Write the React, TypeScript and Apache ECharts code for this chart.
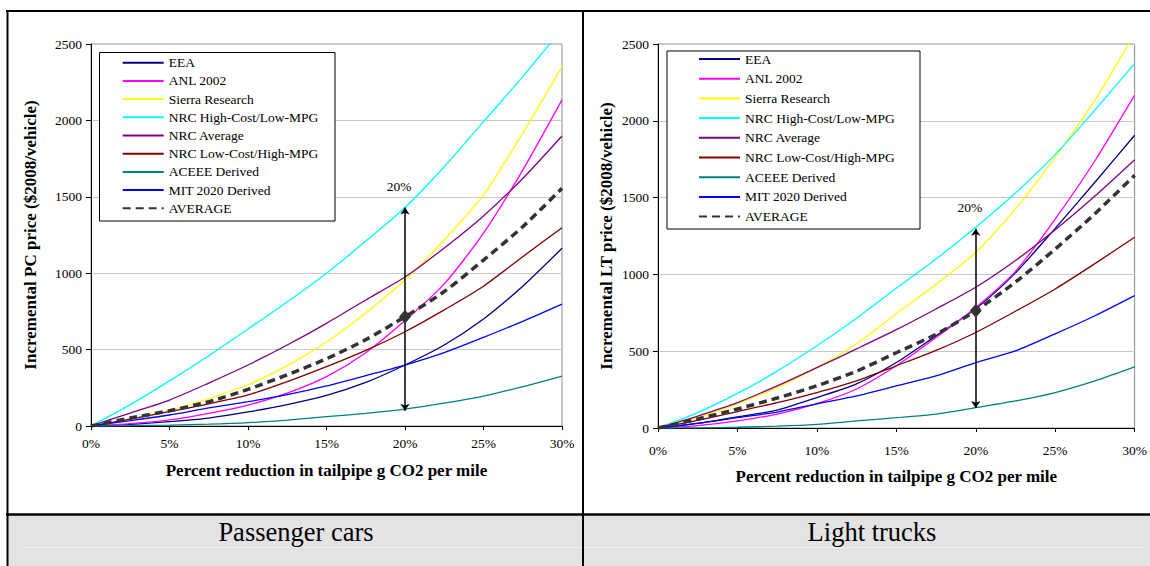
import React, { useEffect, useRef } from "react";
import * as echarts from "echarts";

// x values: percent reduction in tailpipe g CO2 per mile
const pct = [0, 2.5, 5, 7.5, 10, 12.5, 15, 17.5, 20, 22.5, 25, 27.5, 30];
const xTicks = [0, 5, 10, 15, 20, 25, 30];

const seriesNames = [
  "EEA",
  "ANL 2002",
  "Sierra Research",
  "NRC High-Cost/Low-MPG",
  "NRC Average",
  "NRC Low-Cost/High-MPG",
  "ACEEE Derived",
  "MIT 2020 Derived",
  "AVERAGE",
];
const seriesColors = [
  "#000080",
  "#ff00ff",
  "#ffff00",
  "#00ffff",
  "#800080",
  "#800000",
  "#008080",
  "#0000ff",
  "#333333",
];

// Passenger cars ($2008/vehicle)
const pcEEA = [0, 10, 28, 52, 92, 140, 200, 285, 399, 530, 700, 915, 1163];
const pcANL = [0, 15, 40, 83, 137, 215, 323, 480, 690, 930, 1262, 1675, 2134];
const pcSierra = [0, 45, 100, 180, 270, 395, 550, 740, 955, 1217, 1512, 1916, 2352];
const pcNrcHigh = [0, 140, 295, 460, 635, 812, 1000, 1210, 1430, 1697, 1992, 2286, 2600];
const pcNrcAvg = [0, 85, 170, 281, 399, 530, 672, 825, 975, 1165, 1375, 1620, 1898];
const pcNrcLow = [0, 45, 94, 145, 203, 290, 388, 495, 617, 760, 915, 1108, 1298];
const pcACEEE = [0, 2, 6, 12, 22, 39, 61, 83, 111, 150, 196, 257, 327];
const pcMIT = [0, 35, 72, 118, 159, 205, 262, 330, 399, 480, 580, 685, 798];
const pcAverage = [0, 52, 100, 159, 240, 335, 440, 565, 715, 880, 1086, 1304, 1556];
const pcRange20 = [100, 1430];

// Light trucks ($2008/vehicle)
const ltEEA = [0, 30, 72, 117, 198, 287, 426, 600, 776, 1010, 1300, 1600, 1906];
const ltANL = [0, 15, 46, 91, 159, 254, 405, 589, 785, 1020, 1360, 1740, 2167];
const ltSierra = [0, 67, 157, 263, 393, 548, 744, 935, 1144, 1427, 1764, 2134, 2570];
const ltNrcHigh = [0, 100, 225, 370, 535, 715, 910, 1100, 1307, 1530, 1780, 2070, 2374];
const ltNrcAvg = [0, 78, 165, 274, 393, 515, 640, 775, 916, 1090, 1290, 1510, 1747];
const ltNrcLow = [0, 50, 107, 165, 231, 307, 405, 505, 622, 760, 905, 1070, 1242];
const ltACEEE = [0, 1, 5, 12, 24, 46, 67, 91, 133, 176, 231, 307, 398];
const ltMIT = [0, 30, 67, 104, 157, 209, 274, 339, 426, 502, 613, 731, 862];
const ltAverage = [0, 59, 124, 195, 275, 370, 490, 610, 764, 950, 1165, 1395, 1645];
const ltRange20 = [130, 1297];

const yTicks = [0, 500, 1000, 1500, 2000, 2500];
const highlightPct = 20;

const FONT = "'Liberation Serif', 'Times New Roman', serif";

const pcSets = [pcEEA, pcANL, pcSierra, pcNrcHigh, pcNrcAvg, pcNrcLow, pcACEEE, pcMIT, pcAverage];
const ltSets = [ltEEA, ltANL, ltSierra, ltNrcHigh, ltNrcAvg, ltNrcLow, ltACEEE, ltMIT, ltAverage];

function zip(arr: number[]) {
  return pct.map((x, i) => [x, arr[i]]);
}

function buildSeries(sets: number[][], idx: number, range: number[]) {
  const avgVals = sets[sets.length - 1];
  const avgAt20 = avgVals[pct.indexOf(highlightPct)];
  return sets.map((vals, i) => {
    const isAvg = i === sets.length - 1;
    const s: any = {
      name: seriesNames[i],
      type: "line",
      xAxisIndex: idx,
      yAxisIndex: idx,
      data: zip(vals),
      symbol: "none",
      smooth: 0.25,
      clip: true,
      silent: true,
      z: isAvg ? 3 : 2,
      itemStyle: { color: seriesColors[i] },
      lineStyle: isAvg
        ? { color: seriesColors[i], width: 3.5, type: [8, 5] }
        : { color: seriesColors[i], width: 1.3 },
    };
    if (isAvg) {
      s.markLine = {
        silent: true,
        symbol: ["arrow", "arrow"],
        symbolSize: [7, 7],
        lineStyle: { color: "#000", width: 1.5, type: "solid" },
        label: {
          show: true,
          position: "end",
          formatter: highlightPct + "%",
          distance: 14,
          fontFamily: FONT,
          fontSize: 13.5,
          color: "#000",
          offset: [-6, 0],
        },
        data: [[{ coord: [highlightPct, range[0]] }, { coord: [highlightPct, range[1]] }]],
        z: 5,
      };
      s.markPoint = {
        silent: true,
        symbol: "diamond",
        symbolSize: [12, 14],
        itemStyle: { color: "#333333" },
        label: { show: false },
        data: [{ coord: [highlightPct, avgAt20] }],
        z: 6,
      };
    }
    return s;
  });
}

function axisX(idx: number, margin: number, gap: number) {
  return {
    type: "value",
    gridIndex: idx,
    min: xTicks[0],
    max: xTicks[xTicks.length - 1],
    interval: xTicks[1] - xTicks[0],
    name: "Percent reduction in tailpipe g CO2 per mile",
    nameLocation: "middle",
    nameGap: gap,
    nameTextStyle: { fontFamily: FONT, fontSize: 17, fontWeight: "bold", color: "#000" },
    axisLine: { show: true, onZero: false, lineStyle: { color: "#000", width: 1 } },
    axisTick: { show: true, length: 4, lineStyle: { color: "#000" } },
    axisLabel: {
      formatter: "{value}%",
      fontFamily: FONT,
      fontSize: 13.5,
      color: "#000",
      margin,
    },
    splitLine: { show: false },
  };
}

function axisY(idx: number, name: string, gap: number) {
  return {
    type: "value",
    gridIndex: idx,
    min: yTicks[0],
    max: yTicks[yTicks.length - 1],
    interval: yTicks[1] - yTicks[0],
    name,
    nameLocation: "middle",
    nameGap: gap,
    nameTextStyle: { fontFamily: FONT, fontSize: 17, fontWeight: "bold", color: "#000" },
    axisLine: { show: true, lineStyle: { color: "#000", width: 1 } },
    axisTick: { show: true, length: 5, lineStyle: { color: "#000" } },
    axisLabel: {
      fontFamily: FONT,
      fontSize: 13.5,
      color: "#000",
      margin: 9,
      formatter: (v: number) => String(v),
    },
    splitLine: { show: true, lineStyle: { color: "#c8c8c8", width: 1 } },
  };
}

function legendAt(left: number, top: number, gap: number) {
  return {
    show: true,
    data: seriesNames,
    orient: "vertical",
    left,
    top,
    itemWidth: 41,
    itemHeight: 14,
    itemGap: gap,
    padding: 0,
    selectedMode: false,
    itemStyle: { opacity: 0 },
    textStyle: { fontFamily: FONT, fontSize: 13.5, color: "#000", lineHeight: 14 },
    z: 10,
  };
}

export default function App() {
  const ref = useRef<HTMLDivElement>(null);
  useEffect(() => {
    if (!ref.current) return;
    const chart = echarts.init(ref.current, undefined, { renderer: "svg" });
    const option: any = {
      animation: false,
      backgroundColor: "#ffffff",
      textStyle: { fontFamily: FONT },
      grid: [
        { left: 91, top: 44, width: 471, height: 382, show: true, borderColor: "#8c8c8c", borderWidth: 1, backgroundColor: "transparent" },
        { left: 658, top: 44, width: 481, height: 384, show: true, borderColor: "#8c8c8c", borderWidth: 1, backgroundColor: "transparent" },
      ],
      xAxis: [axisX(0, 10, 36), axisX(1, 15, 40)],
      yAxis: [
        axisY(0, "Incremental PC price ($2008/vehicle)", 52),
        axisY(1, "Incremental LT price ($2008/vehicle)", 43),
      ],
      legend: [legendAt(121.7, 55.7, 4.2), legendAt(698, 52, 5.7)],
      series: [...buildSeries(pcSets, 0, pcRange20), ...buildSeries(ltSets, 1, ltRange20)],
      graphic: [
        // caption band
        { type: "rect", shape: { x: 7, y: 515, width: 1143, height: 51 }, style: { fill: "#e3e3e3" }, z: 0, silent: true },
        { type: "line", shape: { x1: 22, y1: 547.5, x2: 1146, y2: 547.5 }, style: { stroke: "#efefef", lineWidth: 1 }, z: 1, silent: true },
        // legend boxes
        { type: "rect", shape: { x: 99.5, y: 52.5, width: 235.5, height: 168.5 }, style: { fill: "#fff", stroke: "#000", lineWidth: 1 }, z: 5, silent: true },
        { type: "rect", shape: { x: 667, y: 51, width: 253, height: 178 }, style: { fill: "#fff", stroke: "#000", lineWidth: 1 }, z: 5, silent: true },
        // frame lines
        { type: "line", shape: { x1: 6, y1: 11, x2: 1150, y2: 11 }, style: { stroke: "#000", lineWidth: 2 }, z: 8, silent: true },
        { type: "line", shape: { x1: 7.5, y1: 10, x2: 7.5, y2: 566 }, style: { stroke: "#000", lineWidth: 2 }, z: 8, silent: true },
        { type: "line", shape: { x1: 583, y1: 10, x2: 583, y2: 566 }, style: { stroke: "#000", lineWidth: 2 }, z: 8, silent: true },
        { type: "line", shape: { x1: 6, y1: 514.5, x2: 1150, y2: 514.5 }, style: { stroke: "#000", lineWidth: 2.5 }, z: 8, silent: true },
        // captions
        { type: "text", x: 296, y: 532, style: { text: "Passenger cars", font: `26.5px ${FONT}`, fill: "#000", align: "center", verticalAlign: "middle" }, z: 8, silent: true },
        { type: "text", x: 872, y: 532, style: { text: "Light trucks", font: `26.5px ${FONT}`, fill: "#000", align: "center", verticalAlign: "middle" }, z: 8, silent: true },
      ],
    };
    chart.setOption(option);
    return () => chart.dispose();
  }, []);
  return (
    <div
      ref={ref}
      style={{ position: "fixed", left: 0, top: 0, width: 1150, height: 566, background: "#fff" }}
    />
  );
}
